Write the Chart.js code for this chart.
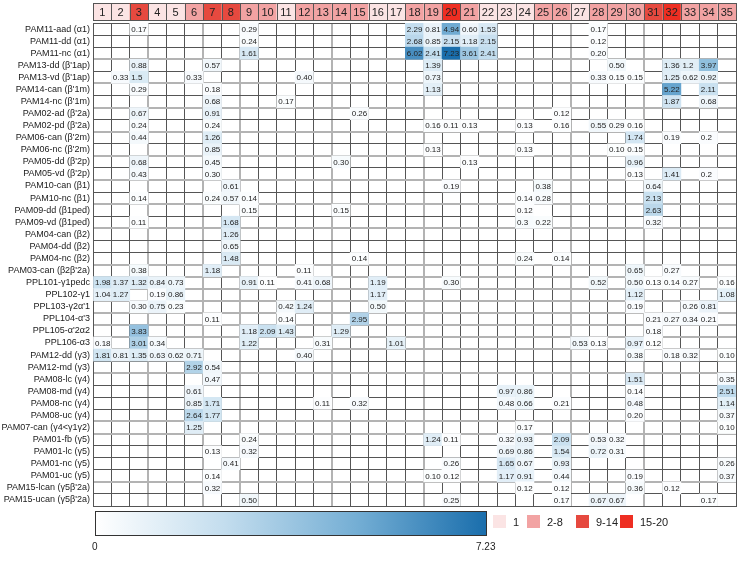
<!DOCTYPE html>
<html>
<head>
<meta charset="utf-8">
<script src="https://cdn.jsdelivr.net/npm/chart.js@4.4.1/dist/chart.umd.min.js"></script>
<style>
  html, body { margin: 0; padding: 0; background: #fff; }
  #wrap { position: relative; width: 739px; height: 572px; font-family: "Liberation Sans", Arial, sans-serif; color: #222; }
  #wrap canvas { position: absolute; left: 0; top: 0; }
  #colorbar { position: absolute; left: 95px; top: 511px; width: 392px; height: 25px; border: 1px solid #333; box-sizing: border-box; }
  .cbl { position: absolute; top: 541px; font-size: 10px; }
  .leg { position: absolute; top: 515px; height: 13px; display: flex; align-items: center; font-size: 11px; }
  .leg span { display: inline-block; width: 13px; height: 13px; margin-right: 7px; }
</style>
</head>
<body>
<div id="wrap">
  <canvas id="heat" width="739" height="572"></canvas>
  <div id="colorbar"></div>
  <div class="cbl" id="cbMin" style="left:92px">0</div>
  <div class="cbl" id="cbMax" style="left:476px"></div>
  <div id="legend"></div>
</div>
<script>
// row labels (top to bottom)
const rows = [
  "PAM11-aad (α1)", "PAM11-dd (α1)", "PAM11-nc (α1)",
  "PAM13-dd (β'1ap)", "PAM13-vd (β'1ap)", "PAM14-can (β'1m)", "PAM14-nc (β'1m)",
  "PAM02-ad (β'2a)", "PAM02-pd (β'2a)", "PAM06-can (β'2m)", "PAM06-nc (β'2m)",
  "PAM05-dd (β'2p)", "PAM05-vd (β'2p)", "PAM10-can (β1)", "PAM10-nc (β1)",
  "PAM09-dd (β1ped)", "PAM09-vd (β1ped)", "PAM04-can (β2)", "PAM04-dd (β2)", "PAM04-nc (β2)",
  "PAM03-can (β2β'2a)", "PPL101-γ1pedc", "PPL102-γ1", "PPL103-γ2α'1", "PPL104-α'3",
  "PPL105-α'2α2", "PPL106-α3", "PAM12-dd (γ3)", "PAM12-md (γ3)", "PAM08-lc (γ4)",
  "PAM08-md (γ4)", "PAM08-nc (γ4)", "PAM08-uc (γ4)", "PAM07-can (γ4<γ1γ2)",
  "PAM01-fb (γ5)", "PAM01-lc (γ5)", "PAM01-nc (γ5)", "PAM01-uc (γ5)",
  "PAM15-lcan (γ5β'2a)", "PAM15-ucan (γ5β'2a)"
];

// column numbers across the top
const columns = Array.from({ length: 35 }, (_, i) => i + 1);

// header bin per column: 0 = "1", 1 = "2-8", 2 = "9-14", 3 = "15-20"
const columnBins = [0, 0, 2, 0, 0, 1, 2, 2, 1, 1, 0, 1, 1, 1, 1, 0, 0, 1, 1, 3,
                    1, 0, 0, 0, 1, 1, 0, 1, 1, 1, 2, 3, 1, 1, 1];
const binLabels = ["1", "2-8", "9-14", "15-20"];
const binColors = ["#fbe4e4", "#f2a3a3", "#e6493f", "#ee2e22"];

// non-empty cells per row, "column:value"
const cellValues = [
  "3:0.17 9:0.29 18:2.29 19:0.81 20:4.94 21:0.60 22:1.53 28:0.17",
  "9:0.24 18:2.68 19:0.85 20:2.15 21:1.18 22:2.15 28:0.12",
  "9:1.61 18:6.02 19:2.41 20:7.23 21:3.61 22:2.41 28:0.20",
  "3:0.88 7:0.57 19:1.39 29:0.50 32:1.36 33:1.2 34:3.97",
  "2:0.33 3:1.5 6:0.33 12:0.40 19:0.73 28:0.33 29:0.15 30:0.15 32:1.25 33:0.62 34:0.92",
  "3:0.29 7:0.18 19:1.13 32:5.22 34:2.11",
  "7:0.68 11:0.17 32:1.87 34:0.68",
  "3:0.67 7:0.91 15:0.26 26:0.12",
  "3:0.24 7:0.24 19:0.16 20:0.11 21:0.13 24:0.13 26:0.16 28:0.55 29:0.29 30:0.16",
  "3:0.44 7:1.26 30:1.74 32:0.19 34:0.2",
  "7:0.85 19:0.13 24:0.13 29:0.10 30:0.15",
  "3:0.68 7:0.45 14:0.30 21:0.13 30:0.96",
  "3:0.43 7:0.30 30:0.13 32:1.41 34:0.2",
  "8:0.61 20:0.19 25:0.38 31:0.64",
  "3:0.14 7:0.24 8:0.57 9:0.14 24:0.14 25:0.28 31:2.13",
  "9:0.15 14:0.15 24:0.12 31:2.63",
  "3:0.11 8:1.68 24:0.3 25:0.22 31:0.32",
  "8:1.26",
  "8:0.65",
  "8:1.48 15:0.14 24:0.24 26:0.14",
  "3:0.38 7:1.18 12:0.11 30:0.65 32:0.27",
  "1:1.98 2:1.37 3:1.32 4:0.84 5:0.73 9:0.91 10:0.11 12:0.41 13:0.68 16:1.19 20:0.30 28:0.52 30:0.50 31:0.13 32:0.14 33:0.27 35:0.16",
  "1:1.04 2:1.27 4:0.19 5:0.86 16:1.17 30:1.12 35:1.08",
  "3:0.30 4:0.75 5:0.23 11:0.42 12:1.24 16:0.50 30:0.19 33:0.26 34:0.81",
  "7:0.11 11:0.14 15:2.95 31:0.21 32:0.27 33:0.34 34:0.21",
  "3:3.83 9:1.18 10:2.09 11:1.43 14:1.29 31:0.18",
  "1:0.18 3:3.01 4:0.34 9:1.22 13:0.31 17:1.01 27:0.53 28:0.13 30:0.97 31:0.12",
  "1:1.81 2:0.81 3:1.35 4:0.63 5:0.62 6:0.71 12:0.40 30:0.38 32:0.18 33:0.32 35:0.10",
  "6:2.92 7:0.54",
  "7:0.47 30:1.51 35:0.35",
  "6:0.61 23:0.97 24:0.86 30:0.14 35:2.51",
  "6:0.85 7:1.71 13:0.11 15:0.32 23:0.48 24:0.66 26:0.21 30:0.48 35:1.14",
  "6:2.64 7:1.77 30:0.20 35:0.37",
  "6:1.25 24:0.17 35:0.10",
  "9:0.24 19:1.24 20:0.11 23:0.32 24:0.93 26:2.09 28:0.53 29:0.32",
  "7:0.13 9:0.32 23:0.69 24:0.86 26:1.54 28:0.72 29:0.31",
  "8:0.41 20:0.26 23:1.65 24:0.67 26:0.93 35:0.26",
  "7:0.14 19:0.10 20:0.12 23:1.17 24:0.91 26:0.44 30:0.19 35:0.37",
  "7:0.32 24:0.12 26:0.12 30:0.36 32:0.12",
  "9:0.50 20:0.25 26:0.17 28:0.67 29:0.67 34:0.17"
];

// columns after which a grey separator is drawn
const columnBreaks = [3, 6, 8, 13, 18, 26, 30];

// colour scale for the cells (fraction of max -> colour)
const blueStops = [[0, "#ffffff"], [0.33, "#c3ddee"], [0.67, "#74aed4"], [1, "#1a6eac"]];

// flatten into floating bars
const cells = [];
cellValues.forEach((line, r) => {
  line.split(" ").forEach(p => {
    const [c, t] = p.split(":");
    cells.push({ x: [Number(c) - 1, Number(c)], y: rows[r], v: Number(t), t: t });
  });
});
const maxValue = Math.max(...cells.map(c => c.v));

function hexRgb(h) {
  return [parseInt(h.slice(1, 3), 16), parseInt(h.slice(3, 5), 16), parseInt(h.slice(5, 7), 16)];
}
function blueFor(v) {
  const t = Math.max(0, Math.min(1, v / maxValue));
  for (let i = 1; i < blueStops.length; i++) {
    if (t <= blueStops[i][0]) {
      const a = blueStops[i - 1], b = blueStops[i];
      const f = (t - a[0]) / (b[0] - a[0]);
      const ca = hexRgb(a[1]), cb = hexRgb(b[1]);
      const m = ca.map((x, k) => Math.round(x + (cb[k] - x) * f));
      return "rgb(" + m.join(",") + ")";
    }
  }
  return blueStops[blueStops.length - 1][1];
}

function groupOf(label) {
  return label.split(/[- ]/)[0];
}

function isRowBreak(i) {
  return i > 0 && i < rows.length && groupOf(rows[i]) !== groupOf(rows[i - 1]);
}

// column header strip drawn on the x scale
const headerStrip = {
  id: "headerStrip",
  afterDraw(chart) {
    const ctx = chart.ctx;
    const xs = chart.scales.x;
    ctx.save();
    ctx.font = '11px "Liberation Sans", Arial, sans-serif';
    ctx.textAlign = "center";
    ctx.textBaseline = "middle";
    columns.forEach((c, i) => {
      const x0 = xs.getPixelForValue(c - 1);
      const x1 = xs.getPixelForValue(c);
      ctx.fillStyle = binColors[columnBins[i]];
      ctx.fillRect(x0, 3, x1 - x0, 17);
      ctx.strokeStyle = "#555";
      ctx.lineWidth = 1;
      ctx.strokeRect(Math.round(x0) + 0.5, 3.5, Math.round(x1) - Math.round(x0), 17);
      ctx.fillStyle = "#222";
      ctx.fillText(String(c), (x0 + x1) / 2, 12.5);
    });
    ctx.restore();
  }
};

// value text in each cell
const cellText = {
  id: "cellText",
  afterDatasetsDraw(chart) {
    const ctx = chart.ctx;
    const meta = chart.getDatasetMeta(0);
    ctx.save();
    ctx.font = '8px "Liberation Sans", Arial, sans-serif';
    ctx.fillStyle = "#222";
    ctx.textBaseline = "middle";
    meta.data.forEach((el, i) => {
      const left = Math.min(el.x, el.base);
      ctx.fillText(cells[i].t, left + 1.5, el.y + 0.5);
    });
    ctx.restore();
  }
};

new Chart(document.getElementById("heat").getContext("2d"), {
  type: "bar",
  data: {
    labels: rows,
    datasets: [{
      data: cells,
      backgroundColor: ctx => blueFor(ctx.raw ? ctx.raw.v : 0),
      borderWidth: 0,
      barPercentage: 1,
      categoryPercentage: 1
    }]
  },
  options: {
    indexAxis: "y",
    responsive: false,
    animation: false,
    layout: { padding: { top: 23, right: 3, bottom: 66, left: 0 } },
    plugins: { legend: { display: false }, tooltip: { enabled: false } },
    scales: {
      x: {
        type: "linear",
        min: 0,
        max: 35,
        z: 1,
        ticks: { display: false, stepSize: 1, autoSkip: false },
        border: { display: true, color: "#555", width: 1 },
        grid: {
          drawTicks: false,
          color: ctx => columnBreaks.includes(ctx.tick && ctx.tick.value) ? "#b3b3b3" : "#555",
          lineWidth: ctx => columnBreaks.includes(ctx.tick && ctx.tick.value) ? 2 : 1
        }
      },
      y: {
        type: "category",
        z: 1,
        afterFit: scale => { scale.width = 93; },
        ticks: {
          autoSkip: false,
          padding: 3,
          color: "#1a1a1a",
          font: { family: '"Liberation Sans", Arial, sans-serif', size: 9 }
        },
        border: { display: true, color: "#555", width: 1 },
        grid: {
          offset: true,
          drawTicks: false,
          color: ctx => isRowBreak(ctx.index) ? "#b3b3b3" : "#555",
          lineWidth: ctx => isRowBreak(ctx.index) ? 2 : 1
        }
      }
    }
  },
  plugins: [headerStrip, cellText]
});

// colour bar and bin legend
document.getElementById("colorbar").style.background =
  "linear-gradient(to right, " + blueStops.map(s => s[1] + " " + (s[0] * 100) + "%").join(", ") + ")";
document.getElementById("cbMax").textContent = maxValue.toFixed(2);

const legendLeft = [493, 527, 576, 620];
const legend = document.getElementById("legend");
binLabels.forEach((lab, i) => {
  const d = document.createElement("div");
  d.className = "leg";
  d.style.left = legendLeft[i] + "px";
  d.innerHTML = '<span style="background:' + binColors[i] + '"></span>' + lab;
  legend.appendChild(d);
});
</script>
</body>
</html>
